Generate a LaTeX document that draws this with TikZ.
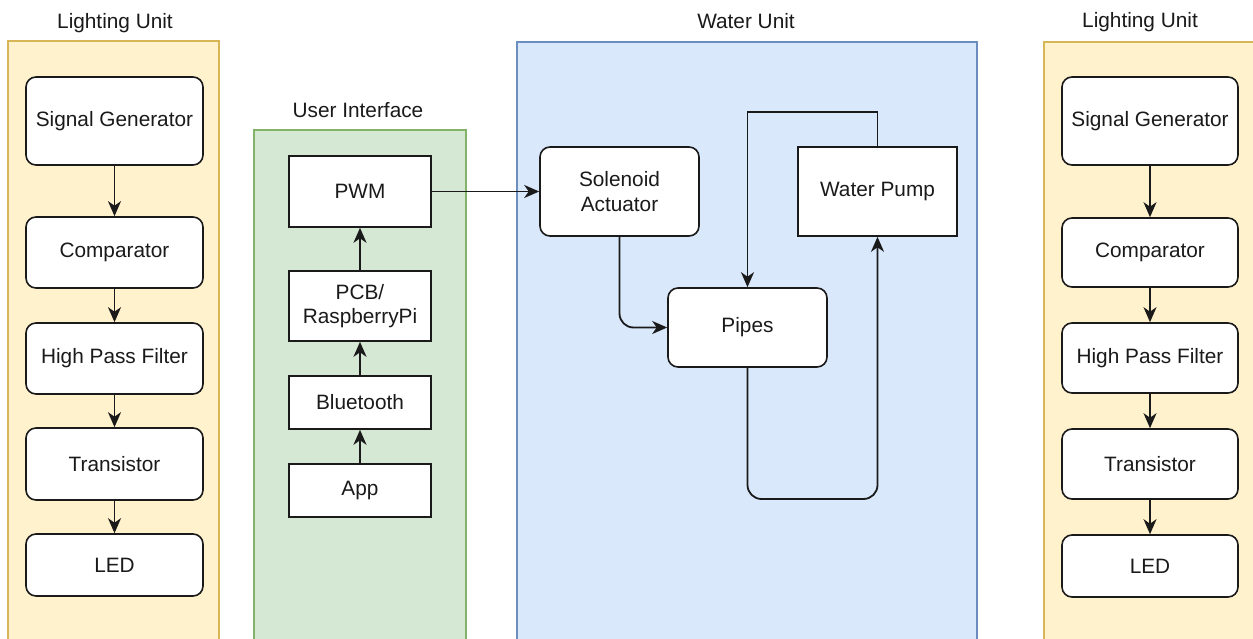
\documentclass[tikz,border=0pt]{standalone}
\usepackage{fontspec}
\setmainfont{Liberation Sans}
\usetikzlibrary{arrows.meta}

\definecolor{litefill}{HTML}{FFF2CC}
\definecolor{litedraw}{HTML}{D6B656}
\definecolor{uifill}{HTML}{D5E8D4}
\definecolor{uidraw}{HTML}{82B366}
\definecolor{waterfill}{HTML}{DAE8FC}
\definecolor{waterdraw}{HTML}{6C8EBF}
\definecolor{ink}{HTML}{1A1A1A}

\tikzset{
  panel/.style={line width=1.1pt},
  unittitle/.style={anchor=base, text=ink, font=\fontsize{20.8}{24}\selectfont},
  block/.style={draw=ink, fill=white, line width=1.6pt, text=ink,
    font=\fontsize{20.8}{24.5}\selectfont, align=center, inner sep=0pt},
  softblock/.style={block, rounded corners=10pt},
  link/.style={draw=ink, line width=1.8pt,
    -{Stealth[length=15pt, width=13pt, inset=4.5pt]}}
}

\begin{document}
\begin{tikzpicture}[x=1pt, y=-1pt]
  \useasboundingbox (0,0) rectangle (1253,639);
  \clip (0,0) rectangle (1253,639);
  \fill[white] (0,0) rectangle (1253,639);

  % unit panels
  \draw[panel, fill=litefill, draw=litedraw] (8,41) rectangle (219,660);
  \draw[panel, fill=uifill, draw=uidraw] (254,130) rectangle (466,660);
  \draw[panel, fill=waterfill, draw=waterdraw] (517,42) rectangle (977,660);
  \draw[panel, fill=litefill, draw=litedraw] (1044,42) rectangle (1270,660);

  % panel titles
  \node[unittitle] (tl) at (115,29) {Lighting Unit};
  \node[unittitle] (tu) at (358,118) {User Interface};
  \node[unittitle] (tw) at (746,29) {Water Unit};
  \node[unittitle] (tr) at (1140,28) {Lighting Unit};

  % lighting unit, left
  \node[softblock, minimum width=177pt, minimum height=88pt] (lsg) at (114.5,121) {Signal Generator};
  \node[softblock, minimum width=177pt, minimum height=71pt] (lcmp) at (114.5,252.5) {Comparator};
  \node[softblock, minimum width=177pt, minimum height=71pt] (lhpf) at (114.5,358.5) {High Pass Filter};
  \node[softblock, minimum width=177pt, minimum height=72pt] (ltr) at (114.5,464) {Transistor};
  \node[softblock, minimum width=177pt, minimum height=62pt] (lled) at (114.5,565) {LED};

  % lighting unit, right
  \node[softblock, minimum width=176pt, minimum height=88pt] (rsg) at (1150,121) {Signal Generator};
  \node[softblock, minimum width=176pt, minimum height=69pt] (rcmp) at (1150,252.5) {Comparator};
  \node[softblock, minimum width=176pt, minimum height=70pt] (rhpf) at (1150,358) {High Pass Filter};
  \node[softblock, minimum width=176pt, minimum height=70pt] (rtr) at (1150,464) {Transistor};
  \node[softblock, minimum width=176pt, minimum height=62pt] (rled) at (1150,566) {LED};

  % user interface
  \node[block, minimum width=142pt, minimum height=71pt] (pwm) at (360,191.5) {PWM};
  \node[block, minimum width=142pt, minimum height=70pt] (pcb) at (360,306) {PCB/\\RaspberryPi};
  \node[block, minimum width=142pt, minimum height=53pt] (bt) at (360,402.5) {Bluetooth};
  \node[block, minimum width=142pt, minimum height=53pt] (app) at (360,490.5) {App};

  % water unit
  \node[softblock, minimum width=159pt, minimum height=89pt] (sol) at (619.5,191.5) {Solenoid\\Actuator};
  \node[block, minimum width=159pt, minimum height=89pt] (pump) at (877.5,191.5) {Water Pump};
  \node[softblock, minimum width=159pt, minimum height=79pt] (pipes) at (747.5,327.5) {Pipes};

  % lighting chains
  \foreach \a/\b in {lsg/lcmp, lcmp/lhpf, lhpf/ltr, ltr/lled,
                     rsg/rcmp, rcmp/rhpf, rhpf/rtr, rtr/rled}
    \draw[link] (\a) -- (\b);

  % user interface chain
  \foreach \a/\b in {app/bt, bt/pcb, pcb/pwm}
    \draw[link] (\a) -- (\b);

  % control and water loop
  \coordinate (looptop) at (0,112);
  \coordinate (loopbot) at (0,499);
  \draw[link] (pwm.east) -- (sol.west);
  \draw[link, rounded corners=14pt] (sol.south) |- (pipes.west);
  \draw[link] (pump.north) -- (pump.north |- looptop) -| (pipes.north);
  \draw[link, rounded corners=14pt] (pipes.south) -- (pipes.south |- loopbot) -| (pump.south);
\end{tikzpicture}
\end{document}
